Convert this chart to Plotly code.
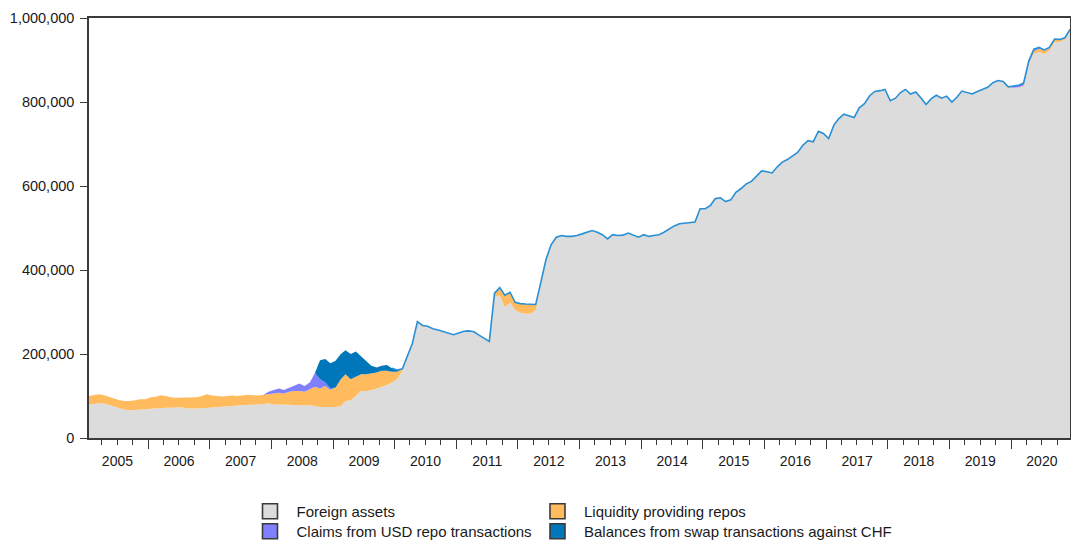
import pandas as pd
import plotly.graph_objects as go

# Monthly observations, Jan 2005 .. Dec 2020 (values in thousands; axis unit x1000)
start_month = "2005-01-01"
n_months = 192
unit = 1000

foreign_assets = [
    80, 82, 83, 82, 78, 74, 70, 67, 66, 67, 68, 69,          # 2005
    70, 70, 71, 72, 72, 72, 73, 71, 70, 70, 71, 72,          # 2006
    73, 74, 75, 76, 77, 77, 78, 79, 79, 80, 80, 82,          # 2007
    80, 80, 80, 79, 78, 78, 78, 78, 76, 74, 74, 74,          # 2008
    74, 76, 88, 90, 100, 112, 112, 114, 118, 122, 126, 132,  # 2009
    140, 160, 192, 225, 277, 266, 265, 260, 257, 253, 250, 246,  # 2010
    250, 254, 255, 253, 245, 238, 230, 335, 340, 312, 322, 305,  # 2011
    298, 296, 296, 305, 370, 425, 460, 478, 482, 480, 480, 482,  # 2012
    486, 490, 494, 490, 484, 474, 484, 482, 483, 488, 482, 478,  # 2013
    484, 480, 482, 484, 490, 498, 505, 510, 511, 512, 514, 546,  # 2014
    546, 554, 570, 572, 563, 567, 585, 594, 605, 611, 625, 636,  # 2015
    634, 631, 645, 657, 663, 672, 680, 697, 708, 705, 730, 725,  # 2016
    713, 745, 760, 771, 767, 763, 786, 796, 815, 825, 827, 830,  # 2017
    803, 809, 822, 830, 819, 824, 810, 794, 808, 816, 809, 814,  # 2018
    800, 812, 826, 822, 819, 825, 830, 835, 846, 851, 849, 833,  # 2019
    834, 835, 837, 889, 915, 919, 914, 922, 942, 943, 949, 970,  # 2020
]

liquidity_repos = [
    20, 21, 21, 20, 20, 19, 20, 21, 22, 23, 24, 23,   # 2005
    27, 28, 31, 28, 25, 24, 23, 25, 26, 27, 29, 32,   # 2006
    28, 26, 24, 24, 24, 23, 23, 24, 23, 21, 23, 22,   # 2007
    26, 28, 26, 31, 34, 34, 32, 38, 46, 44, 50, 40,   # 2008
    46, 64, 64, 50, 46, 40, 40, 40, 38, 38, 34, 26,   # 2009
    18, 5, 3, 0, 0, 2, 1, 0, 0, 0, 0, 0,              # 2010
    0, 0, 0, 0, 0, 0, 0, 10, 18, 28, 25, 18,          # 2011
    22, 23, 22, 13, 0, 0, 0, 0, 0, 0, 0, 0,           # 2012
    0, 0, 0, 0, 0, 0, 0, 0, 0, 0, 0, 0,               # 2013
    0, 0, 0, 0, 0, 0, 0, 0, 0, 0, 0, 0,               # 2014
    0, 0, 0, 0, 0, 0, 0, 0, 0, 0, 0, 0,               # 2015
    0, 0, 0, 0, 0, 0, 0, 0, 0, 0, 0, 0,               # 2016
    0, 0, 0, 0, 0, 0, 0, 0, 0, 0, 0, 0,               # 2017
    0, 0, 0, 0, 0, 0, 0, 0, 0, 0, 0, 0,               # 2018
    0, 0, 0, 0, 0, 0, 0, 0, 0, 0, 0, 3,               # 2019
    0, 0, 2, 3, 6, 8, 8, 6, 6, 5, 3, 2,               # 2020
]

usd_repo_claims = [
    0, 0, 0, 0, 0, 0, 0, 0, 0, 0, 0, 0,               # 2005
    0, 0, 0, 0, 0, 0, 0, 0, 0, 0, 0, 0,               # 2006
    0, 0, 0, 0, 0, 0, 0, 0, 0, 0, 0, 6,               # 2007
    8, 10, 8, 10, 12, 18, 14, 16, 33, 22, 8, 4,       # 2008
    0, 0, 0, 0, 0, 0, 0, 0, 0, 0, 0, 0,               # 2009
    0, 0, 0, 0, 0, 0, 0, 0, 0, 0, 0, 0,               # 2010
    0, 0, 0, 0, 0, 0, 0, 0, 0, 0, 0, 0,               # 2011
    0, 0, 0, 0, 0, 0, 0, 0, 0, 0, 0, 0,               # 2012
    0, 0, 0, 0, 0, 0, 0, 0, 0, 0, 0, 0,               # 2013
    0, 0, 0, 0, 0, 0, 0, 0, 0, 0, 0, 0,               # 2014
    0, 0, 0, 0, 0, 0, 0, 0, 0, 0, 0, 0,               # 2015
    0, 0, 0, 0, 0, 0, 0, 0, 0, 0, 0, 0,               # 2016
    0, 0, 0, 0, 0, 0, 0, 0, 0, 0, 0, 0,               # 2017
    0, 0, 0, 0, 0, 0, 0, 0, 0, 0, 0, 0,               # 2018
    0, 0, 0, 0, 0, 0, 0, 0, 0, 0, 0, 0,               # 2019
    4, 5, 6, 6, 5, 3, 2, 2, 2, 1, 1, 1,               # 2020
]

swap_balances = [
    0, 0, 0, 0, 0, 0, 0, 0, 0, 0, 0, 0,               # 2005
    0, 0, 0, 0, 0, 0, 0, 0, 0, 0, 0, 0,               # 2006
    0, 0, 0, 0, 0, 0, 0, 0, 0, 0, 0, 0,               # 2007
    0, 0, 0, 0, 0, 0, 0, 0, 0, 45, 56, 60,            # 2008
    64, 60, 57, 60, 60, 42, 32, 18, 12, 12, 14, 8,    # 2009
    4, 0, 0, 0, 0, 0, 0, 0, 0, 0, 0, 0,               # 2010
    0, 0, 0, 0, 0, 0, 0, 0, 0, 0, 0, 0,               # 2011
    0, 0, 0, 0, 0, 0, 0, 0, 0, 0, 0, 0,               # 2012
    0, 0, 0, 0, 0, 0, 0, 0, 0, 0, 0, 0,               # 2013
    0, 0, 0, 0, 0, 0, 0, 0, 0, 0, 0, 0,               # 2014
    0, 0, 0, 0, 0, 0, 0, 0, 0, 0, 0, 0,               # 2015
    0, 0, 0, 0, 0, 0, 0, 0, 0, 0, 0, 0,               # 2016
    0, 0, 0, 0, 0, 0, 0, 0, 0, 0, 0, 0,               # 2017
    0, 0, 0, 0, 0, 0, 0, 0, 0, 0, 0, 0,               # 2018
    0, 0, 0, 0, 0, 0, 0, 0, 0, 0, 0, 0,               # 2019
    0, 0, 0, 0, 0, 0, 0, 0, 0, 0, 0, 0,               # 2020
]

series_names = ["Foreign assets", "Liquidity providing repos",
                "Claims from USD repo transactions", "Balances from swap transactions against CHF"]
series_colors = ["#DCDCDC", "#FFBB5E", "#8080FF", "#0077BB"]
edge_line_color = "#2A90D5"
edge_start_index = 59  # top outline drawn from Dec 2009 on

dates = pd.date_range(start_month, periods=n_months, freq="MS") + pd.Timedelta(days=14)
series_values = [foreign_assets, liquidity_repos, usd_repo_claims, swap_balances]

fig = go.Figure()
for name, vals, col in zip(series_names, series_values, series_colors):
    fig.add_trace(go.Scatter(
        x=dates, y=[v * unit for v in vals], name=name, stackgroup="one",
        mode="lines", line=dict(width=0, color=col), fillcolor=col,
        showlegend=False, hoverinfo="skip"))

total = [sum(t) for t in zip(*series_values)]
fig.add_trace(go.Scatter(
    x=dates[edge_start_index:], y=[v * unit for v in total[edge_start_index:]],
    mode="lines", line=dict(color=edge_line_color, width=1.6),
    showlegend=False, hoverinfo="skip"))

# legend entries (bordered squares), one legend box per entry: 2 columns x 2 rows
legend_ids = ["legend", "legend2", "legend3", "legend4"]
for i in range(4):
    fig.add_trace(go.Scatter(
        x=[None], y=[None], mode="markers", name=series_names[i],
        marker=dict(symbol="square", size=15, color=series_colors[i],
                    line=dict(color="#3a3a3a", width=1.6)),
        legend=legend_ids[i]))

W, H = 1071, 543
axis_col = "#3a3a3a"
col_x = [243.5, 531]
row_top = [495, 515]


def legend_box(cx, ry):
    return dict(xref="container", yref="container", xanchor="left", yanchor="top",
                x=cx / W, y=1 - ry / H, orientation="v", bgcolor="rgba(0,0,0,0)",
                itemwidth=43, font=dict(size=15))


fig.update_layout(
    width=W, height=H,
    margin=dict(l=89, r=1, t=18, b=105, autoexpand=False),
    paper_bgcolor="white", plot_bgcolor="white",
    font=dict(family="Liberation Sans, Arial, sans-serif", size=14, color="#1a1a1a"),
    xaxis=dict(
        type="date", range=[dates[0], dates[-1]], automargin=False,
        showgrid=False, zeroline=False,
        showline=True, linecolor=axis_col, linewidth=1.5, mirror=True,
        ticks="outside", ticklen=9, tickwidth=1.3, tickcolor=axis_col,
        dtick="M12", tick0="2005-01-01", tickformat="%Y", ticklabelmode="period",
        ticklabelstandoff=0,
        minor=dict(dtick="M3", tick0="2005-01-01", ticks="outside", ticklen=5,
                   tickwidth=1.2, tickcolor=axis_col, showgrid=False),
    ),
    yaxis=dict(
        range=[0, 1000000], dtick=200000, tickformat=",d", automargin=False,
        showgrid=False, zeroline=False, tickfont=dict(size=14.5), ticklabelstandoff=3,
        showline=True, linecolor=axis_col, linewidth=1.5, mirror=True,
        ticks="outside", ticklen=7, tickwidth=1.3, tickcolor=axis_col,
    ),
    legend=legend_box(col_x[0], row_top[0]),
    legend2=legend_box(col_x[1], row_top[0]),
    legend3=legend_box(col_x[0], row_top[1]),
    legend4=legend_box(col_x[1], row_top[1]),
)

# remove the default page margin so the figure sits at the page origin
fig.write_html("out.html", config={"displayModeBar": False},
               post_script="document.body.style.margin='0';document.body.style.overflow='hidden';")
